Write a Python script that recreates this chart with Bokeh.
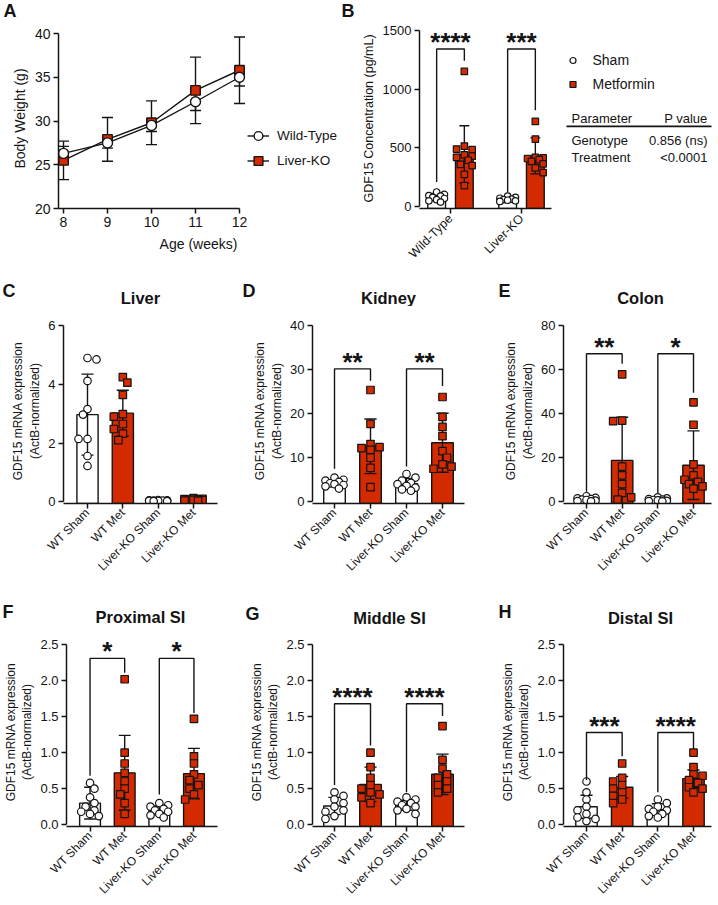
import math
from bokeh.plotting import figure
from bokeh.models import Range1d, FixedTicker, Legend, LegendItem, Label, NumeralTickFormatter
from bokeh.layouts import column, row
from bokeh.embed import file_html
from bokeh.resources import INLINE
from bokeh.core.properties import value

FONT = "Liberation Sans"
RED = "#d42a00"
INK = "#141414"

# ---------------- data ----------------
# Panel A: body weight
weeks = [8, 9, 10, 11, 12]
wt_weight = [26.3, 27.5, 29.5, 32.2, 35.0]
wt_weight_sd = [0.8, 0.6, 0.7, 1.0, 1.0]
ko_weight = [25.5, 27.9, 29.8, 33.5, 35.8]
ko_weight_sd = [2.2, 2.5, 2.5, 3.8, 3.8]
weight_ticks = [20, 25, 30, 35, 40]

# Panel B: serum GDF15
genotypes = ["Wild-Type", "Liver-KO"]
serum_sham_mean = [82, 65]
serum_sham_sd = [30, 20]
serum_met_mean = [445, 432]
serum_met_sd = [243, 153]
serum_sham_pts = [[125, 105, 95, 90, 80, 70, 60, 50, 40],
                  [90, 80, 72, 65, 60, 55, 50, 45]]
serum_met_pts = [[1150, 515, 490, 485, 440, 430, 420, 395, 360, 350, 275, 180],
                 [725, 575, 420, 415, 410, 400, 385, 365, 330, 290]]
serum_ticks = [0, 500, 1000, 1500]
serum_stars = ["****", "***"]
serum_br_top = [1340, 1340]
serum_br_left = [210, 120]
serum_br_right = [1240, 820]
table_head = ("Parameter", "P value")
table_rows = [("Genotype", "0.856 (ns)"), ("Treatment", "<0.0001")]

# Panels C-H: tissue mRNA
groups = ["WT Sham", "WT Met", "Liver-KO Sham", "Liver-KO Met"]

liver_mean = [2.97, 3.02, 0.04, 0.07]
liver_sd = [1.38, 0.78, 0.02, 0.03]
liver_pts = [[4.9, 4.85, 4.12, 3.16, 2.97, 2.14, 2.14, 1.56, 1.22],
             [4.25, 4.06, 3.64, 2.99, 2.9, 2.65, 2.48, 2.32, 2.1],
             [0.06, 0.05, 0.05, 0.04, 0.04, 0.03, 0.03, 0.02, 0.02],
             [0.12, 0.10, 0.09, 0.08, 0.07, 0.06, 0.05, 0.04, 0.03]]
liver_ticks = [0, 2, 4, 6]

kidney_mean = [4.2, 12.6, 4.1, 13.4]
kidney_sd = [0.8, 6.2, 1.2, 6.7]
kidney_pts = [[5.5, 5.0, 4.8, 4.5, 4.2, 4.0, 3.8, 3.5, 3.0],
              [25.4, 17.7, 13.1, 12.4, 12.2, 11.8, 10.0, 7.7, 3.3],
              [6.3, 5.5, 4.8, 4.3, 4.0, 3.6, 3.2, 2.8, 2.5],
              [23.8, 19.3, 17.0, 14.9, 11.5, 10.0, 8.5, 8.0, 7.5]]
kidney_ticks = [0, 10, 20, 30, 40]
kidney_stars = ["**", "**"]
kidney_br_top = [30.2, 30.2]
kidney_br_left = [7.5, 8.0]
kidney_br_right = [27.5, 26.3]

colon_mean = [1.1, 18.8, 0.9, 16.6]
colon_sd = [0.8, 19.6, 0.6, 15.6]
colon_pts = [[2.5, 1.8, 1.5, 1.2, 1.0, 0.8, 0.5, 0.3, 0.2],
             [57.9, 36.9, 36.6, 16.0, 12.0, 8.0, 4.0, 2.0, 1.0],
             [2.0, 1.5, 1.2, 1.0, 0.8, 0.6, 0.4, 0.3, 0.2],
             [45.2, 35.0, 17.0, 12.0, 10.0, 9.0, 8.0, 7.0, 6.0]]
colon_ticks = [0, 20, 40, 60, 80]
colon_stars = ["**", "*"]
colon_br_top = [67.3, 67.3]
colon_br_left = [4.5, 4.0]
colon_br_right = [62.7, 49.5]

prox_mean = [0.30, 0.72, 0.20, 0.71]
prox_sd = [0.22, 0.52, 0.06, 0.35]
prox_pts = [[0.58, 0.50, 0.38, 0.30, 0.25, 0.20, 0.18, 0.15, 0.12],
            [2.02, 1.00, 0.85, 0.72, 0.60, 0.50, 0.42, 0.30, 0.15],
            [0.30, 0.27, 0.25, 0.22, 0.20, 0.18, 0.15, 0.13, 0.10],
            [1.47, 0.95, 0.85, 0.70, 0.62, 0.55, 0.50, 0.42, 0.35]]
prox_stars = ["*", "*"]
prox_br_top = [2.31, 2.31]
prox_br_left = [0.68, 0.42]
prox_br_right = [2.11, 1.55]

mid_mean = [0.26, 0.56, 0.27, 0.70]
mid_sd = [0.12, 0.24, 0.07, 0.28]
mid_pts = [[0.45, 0.40, 0.35, 0.30, 0.25, 0.20, 0.18, 0.12, 0.08],
           [1.00, 0.80, 0.65, 0.55, 0.50, 0.45, 0.42, 0.38, 0.30],
           [0.38, 0.35, 0.32, 0.30, 0.27, 0.25, 0.22, 0.20, 0.15],
           [1.37, 0.90, 0.78, 0.70, 0.65, 0.60, 0.55, 0.50, 0.45]]
mid_stars = ["****", "****"]
mid_br_top = [1.68, 1.68]
mid_br_left = [0.55, 0.45]
mid_br_right = [1.10, 1.51]

dist_mean = [0.25, 0.52, 0.21, 0.64]
dist_sd = [0.16, 0.15, 0.08, 0.12]
dist_pts = [[0.60, 0.45, 0.35, 0.25, 0.20, 0.15, 0.10, 0.08, 0.05],
            [0.85, 0.65, 0.60, 0.55, 0.50, 0.45, 0.40, 0.35, 0.30],
            [0.35, 0.30, 0.25, 0.22, 0.20, 0.18, 0.15, 0.12, 0.10],
            [1.00, 0.80, 0.70, 0.68, 0.62, 0.58, 0.52, 0.50, 0.45]]
si_ticks = [0, 0.5, 1.0, 1.5, 2.0, 2.5]
dist_stars = ["***", "****"]
dist_br_top = [1.28, 1.28]
dist_br_left = [0.62, 0.45]
dist_br_right = [0.95, 1.05]

YLABEL = "GDF15 mRNA expression\n(ActB-normalized)"
STAR_SIZE = "26px"
STAR_DY = -7


# ---------------- helpers ----------------
def new_fig(w, h, bl, br, bt, bb, xr, yr):
    p = figure(width=w, height=h, x_range=Range1d(*xr), y_range=Range1d(*yr), title=None,
               output_backend="svg", toolbar_location=None,
               min_border_left=bl, min_border_right=br, min_border_top=bt, min_border_bottom=bb,
               background_fill_color="white", border_fill_color="white")
    p.grid.visible = False
    p.outline_line_color = None
    return p


def header(width, height, top, items):
    # items: (x, baseline_y, text, size_px, align); texts centred vertically on their cap height
    p = figure(width=width, height=height, x_range=Range1d(0, width), y_range=Range1d(top + height, top),
               title=None, x_axis_type=None, y_axis_type=None, output_backend="svg", toolbar_location=None,
               min_border_left=0, min_border_right=0, min_border_top=0, min_border_bottom=0,
               background_fill_color="white", border_fill_color="white")
    p.grid.visible = False
    p.outline_line_color = None
    for (x, y, txt, size, align) in items:
        p.text(x=[x], y=[y - 0.35 * size], text=[txt], text_font=value(FONT), text_font_size=f"{size}px",
               text_font_style="bold", text_align=align, text_baseline="middle", text_color=INK)
    return p


def style_axes(p, tick_size, label_size):
    for ax in p.axis:
        ax.axis_line_width = 1.5
        ax.axis_line_color = INK
        ax.major_tick_line_width = 1.5
        ax.major_tick_line_color = INK
        ax.major_tick_in = 0
        ax.major_tick_out = 5
        ax.minor_tick_line_color = None
        ax.major_label_text_font = FONT
        ax.major_label_text_font_size = tick_size
        ax.major_label_text_color = INK
        ax.major_label_standoff = 3
        ax.axis_label_text_font = FONT
        ax.axis_label_text_font_size = label_size
        ax.axis_label_text_font_style = "normal"
        ax.axis_label_text_color = INK
        ax.axis_label_standoff = 4


def add_label(p, rx, ry, text, size, align="left"):
    p.add_layout(Label(x=rx, y=ry, x_units="screen", y_units="screen", text=text,
                       text_font=FONT, text_font_size=size, text_font_style="normal",
                       text_align=align, text_baseline="alphabetic", text_color=INK))


def swarm(vals, ppx, ppy, diam, maxhalf):
    n = len(vals)
    order = sorted(range(n), key=lambda i: -vals[i])
    step = diam * 0.6
    kmax = max(1, int(maxhalf // step))
    placed = []
    out = [0.0] * n
    for rank, i in enumerate(order):
        y = vals[i] * ppy
        cands = [0.0]
        for k in range(1, kmax + 1):
            cands += ([k * step, -k * step] if rank % 2 else [-k * step, k * step])
        best, best_ov = 0.0, None
        for c in cands:
            ov = 0.0
            for (px, py) in placed:
                d = math.hypot(px - c, py - y)
                if d < diam * 0.95:
                    ov = max(ov, diam * 0.95 - d)
            if ov == 0:
                best, best_ov = c, 0.0
                break
            if best_ov is None or ov < best_ov - 1e-9:
                best, best_ov = c, ov
        placed.append((best, y))
        out[i] = best / ppx
    return out


def error_bars(p, xs, means, sds, half):
    lo = [m - s for m, s in zip(means, sds)]
    hi = [m + s for m, s in zip(means, sds)]
    p.segment(x0=xs, y0=lo, x1=xs, y1=hi, line_color=INK, line_width=1.4)
    p.segment(x0=[x - half for x in xs], y0=hi, x1=[x + half for x in xs], y1=hi, line_color=INK, line_width=1.4)
    p.segment(x0=[x - half for x in xs], y0=lo, x1=[x + half for x in xs], y1=lo, line_color=INK, line_width=1.4)


def brackets(p, xl, xr, tops, lefts, rights, stars):
    xs = [[a, a, b, b] for a, b in zip(xl, xr)]
    ys = [[l, t, t, r] for t, l, r in zip(tops, lefts, rights)]
    p.multi_line(xs=xs, ys=ys, line_color=INK, line_width=1.4)
    p.text(x=[(a + b) / 2 for a, b in zip(xl, xr)], y=tops, text=stars,
           text_font=value(FONT), text_font_size=STAR_SIZE, text_font_style="bold",
           text_align="center", text_baseline="middle", text_color=INK, y_offset=STAR_DY)


# ---------------- Row 1: header 0..21, figures 21..270 ----------------
hdr1 = header(718, 21, 0, [(3, 16.5, "A", 18, "left"), (341, 16.5, "B", 18, "left")])

# Panel A (frame 28..208)
A_PPX, A_PPY = 44.0, 8.75
A_FL = 58
a_xs = 8 - (63 - A_FL) / A_PPX
a_fw = 340 - A_FL - 2
a_xe = a_xs + a_fw / A_PPX
a_fh = 180
a_ye = 20 + a_fh / A_PPY
pA = new_fig(340, 249, A_FL, 2, 7, 62, (a_xs, a_xe), (20, a_ye))
error_bars(pA, weeks, ko_weight, ko_weight_sd, 0.125)
error_bars(pA, weeks, wt_weight, wt_weight_sd, 0.125)
ko_line = pA.line(weeks, ko_weight, line_color=INK, line_width=1.4)
wt_line = pA.line(weeks, wt_weight, line_color=INK, line_width=1.4)
ko_pts = pA.scatter(weeks, ko_weight, marker="square", size=9.5, fill_color=RED, line_color=INK, line_width=1.4)
wt_pts = pA.scatter(weeks, wt_weight, marker="circle", size=10, fill_color="white", line_color=INK, line_width=1.4)
style_axes(pA, "14px", "14px")
pA.xaxis.ticker = FixedTicker(ticks=weeks)
pA.xaxis.bounds = (a_xs, 12)
pA.xaxis.axis_label = "Age (weeks)"
pA.xaxis.axis_label_standoff = 6
pA.yaxis.ticker = FixedTicker(ticks=weight_ticks)
pA.yaxis.bounds = (20, 40)
pA.yaxis.axis_label = "Body Weight (g)"
legA = Legend(items=[LegendItem(label="Wild-Type", renderers=[wt_line, wt_pts]),
                     LegendItem(label="Liver-KO", renderers=[ko_line, ko_pts])],
              location=(247 - A_FL, 35), orientation="vertical", glyph_width=22, glyph_height=25,
              label_height=25, spacing=0, padding=0, margin=0, label_standoff=8,
              label_text_font=FONT, label_text_font_size="13.5px", label_text_color=INK,
              border_line_color=None, background_fill_alpha=0)
pA.add_layout(legA)

# Panel B (frame 28..210)
B_FL, B_FB = 419, 210
B_PPX, B_PPY = 71.0, 0.119
b_fw = 378 - 79 - 6
b_xs = 1 - (450 - B_FL) / B_PPX
b_xe = b_xs + b_fw / B_PPX
b_fh = 182
b_ys = -15
b_ye = b_ys + b_fh / B_PPY
pB = new_fig(378, 249, 79, 6, 7, 60, (b_xs, b_xe), (b_ys, b_ye))
gx = [1, 2]
off = 0.195
sham_x = [g - off for g in gx]
met_x = [g + off for g in gx]
pB.vbar(x=sham_x, top=serum_sham_mean, bottom=b_ys, width=0.25, fill_color="white", line_color=INK, line_width=1.4)
pB.vbar(x=met_x, top=serum_met_mean, bottom=b_ys, width=0.25, fill_color=RED, line_color=INK, line_width=1.4)
error_bars(pB, sham_x, serum_sham_mean, serum_sham_sd, 0.07)
error_bars(pB, met_x, serum_met_mean, serum_met_sd, 0.07)
sx, sy, mx, my = [], [], [], []
for gi in range(2):
    o = swarm(serum_sham_pts[gi], B_PPX, B_PPY, 6.5, 9)
    sx += [sham_x[gi] + d for d in o]
    sy += serum_sham_pts[gi]
    o = swarm(serum_met_pts[gi], B_PPX, B_PPY, 6.5, 9)
    mx += [met_x[gi] + d for d in o]
    my += serum_met_pts[gi]
sham_r = pB.scatter(sx, sy, marker="circle", size=6.5, fill_color="white", line_color=INK, line_width=1.2)
met_r = pB.scatter(mx, my, marker="square", size=6.5, fill_color=RED, line_color=INK, line_width=1.2)
brackets(pB, sham_x, met_x, serum_br_top, serum_br_left, serum_br_right, serum_stars)
style_axes(pB, "13px", "12.5px")
pB.xaxis.ticker = FixedTicker(ticks=gx)
pB.xaxis.major_label_overrides = {1: genotypes[0], 2: genotypes[1]}
pB.xaxis.major_label_orientation = math.pi / 4
pB.xaxis.major_label_text_font_size = "12.5px"
pB.xaxis.bounds = (b_xs, 2.42)
pB.yaxis.ticker = FixedTicker(ticks=serum_ticks)
pB.yaxis.bounds = (0, 1500)
pB.yaxis.axis_label = "GDF15 Concentration (pg/mL)"
legB = Legend(items=[LegendItem(label="Sham", renderers=[sham_r]),
                     LegendItem(label="Metformin", renderers=[met_r])],
              location=(564.5 - B_FL, B_FB - 98), orientation="vertical", glyph_width=15, glyph_height=24,
              label_height=24, spacing=0, padding=0, margin=0, label_standoff=13,
              label_text_font=FONT, label_text_font_size="14px", label_text_color=INK,
              border_line_color=None, background_fill_alpha=0)
pB.add_layout(legB)


def bxa(a):
    return b_xs + (a - B_FL) / B_PPX


def bya(a):
    return b_ys + (B_FB - a) / B_PPY


pB.segment(x0=[bxa(566)], y0=[bya(127)], x1=[bxa(711)], y1=[bya(127)], line_color=INK, line_width=1.6)
add_label(pB, 571 - B_FL, B_FB - 120, table_head[0], "13px")
add_label(pB, 707 - B_FL, B_FB - 120, table_head[1], "13px", align="right")
for k, (name, pv) in enumerate(table_rows):
    yb = [142, 159][k]
    add_label(pB, 571 - B_FL, B_FB - yb, name, "13px")
    add_label(pB, 707 - B_FL, B_FB - yb, pv, "13px", align="right")


# ---------------- bar panels C-H ----------------
def bar_panel(fig_w, fig_h, bl, br, bt, bb, t1, t4, ymax, ypx, yticks, fmt,
              means, sds, pts, stars=None, btop=None, bleft=None, bright=None):
    fw = fig_w - bl - br
    fh = fig_h - bt - bb
    ppx = (t4 - t1) / 3.0
    xs0 = 1 - (t1 - bl) / ppx
    xe0 = xs0 + fw / ppx
    ppy = ypx / ymax
    ys0 = -0.01 * ymax
    ye0 = ys0 + fh / ppy
    p = new_fig(fig_w, fig_h, bl, br, bt, bb, (xs0, xe0), (ys0, ye0))
    cats = [1, 2, 3, 4]
    fills = ["white", RED, "white", RED]
    p.vbar(x=cats, top=means, bottom=ys0, width=0.6, fill_color=fills, line_color=INK, line_width=1.4)
    error_bars(p, cats, means, sds, 0.17)
    cx, cy, qx, qy = [], [], [], []
    for gi in range(4):
        o = swarm(pts[gi], ppx, ppy, 7.5, 12)
        xx = [cats[gi] + d for d in o]
        if gi % 2 == 0:
            cx += xx
            cy += pts[gi]
        else:
            qx += xx
            qy += pts[gi]
    p.scatter(cx, cy, marker="circle", size=7.5, fill_color="white", line_color=INK, line_width=1.2)
    p.scatter(qx, qy, marker="square", size=7.5, fill_color=RED, line_color=INK, line_width=1.2)
    if stars is not None:
        brackets(p, [1, 3], [2, 4], btop, bleft, bright, stars)
    style_axes(p, "13px", "12px")
    p.xaxis.ticker = FixedTicker(ticks=cats)
    p.xaxis.major_label_overrides = {i + 1: g for i, g in enumerate(groups)}
    p.xaxis.major_label_orientation = math.pi / 4
    p.xaxis.major_label_text_font_size = "12px"
    p.xaxis.major_label_standoff = 2
    p.yaxis.ticker = FixedTicker(ticks=yticks)
    p.yaxis.bounds = (0, ymax)
    if fmt:
        p.yaxis.formatter = NumeralTickFormatter(format=fmt)
    p.yaxis.axis_label = YLABEL
    p.yaxis.axis_label_standoff = 3
    return p


# Row 2: header 270..306, figures 306..590
hdr2 = header(718, 36, 270, [(2, 297, "C", 18, "left"), (242, 297, "D", 18, "left"),
                             (498, 297, "E", 18, "left"),
                             (140, 303, "Liver", 16.5, "center"), (388, 303, "Kidney", 16.5, "center"),
                             (640, 303, "Colon", 16.5, "center")])
pC = bar_panel(242, 284, 63, 25, 12, 87, 87, 193, 6, 176, liver_ticks, None,
               liver_mean, liver_sd, liver_pts)
pD = bar_panel(254, 284, 70, 32, 12, 87, 334 - 242, 442 - 242, 40, 176, kidney_ticks, None,
               kidney_mean, kidney_sd, kidney_pts,
               kidney_stars, kidney_br_top, kidney_br_left, kidney_br_right)
pE = bar_panel(222, 284, 67, 7, 12, 87, 586 - 496, 693 - 496, 80, 176, colon_ticks, None,
               colon_mean, colon_sd, colon_pts,
               colon_stars, colon_br_top, colon_br_left, colon_br_right)

# Row 3: header 590..628, figures 628..905
hdr3 = header(718, 38, 590, [(2, 618, "F", 18, "left"), (245, 620, "G", 18, "left"),
                             (498, 618, "H", 18, "left"),
                             (140, 622, "Proximal SI", 16.5, "center"),
                             (389, 623, "Middle SI", 16.5, "center"),
                             (640, 623, "Distal SI", 16.5, "center")])
pF = bar_panel(242, 277, 63, 25, 9, 79, 87, 193, 2.5, 180, si_ticks, "0.0",
               prox_mean, prox_sd, prox_pts,
               prox_stars, prox_br_top, prox_br_left, prox_br_right)
pG = bar_panel(254, 277, 70, 32, 9, 79, 334 - 242, 442 - 242, 2.5, 180, si_ticks, "0.0",
               mid_mean, mid_sd, mid_pts,
               mid_stars, mid_br_top, mid_br_left, mid_br_right)
pH = bar_panel(222, 277, 67, 7, 9, 79, 586 - 496, 693 - 496, 2.5, 180, si_ticks, "0.0",
               dist_mean, dist_sd, dist_pts,
               dist_stars, dist_br_top, dist_br_left, dist_br_right)

layout = column(hdr1, row(pA, pB, spacing=0), hdr2, row(pC, pD, pE, spacing=0),
                hdr3, row(pF, pG, pH, spacing=0), spacing=0)
open("out.html", "w").write(file_html(layout, INLINE, title="GDF15 figure"))
